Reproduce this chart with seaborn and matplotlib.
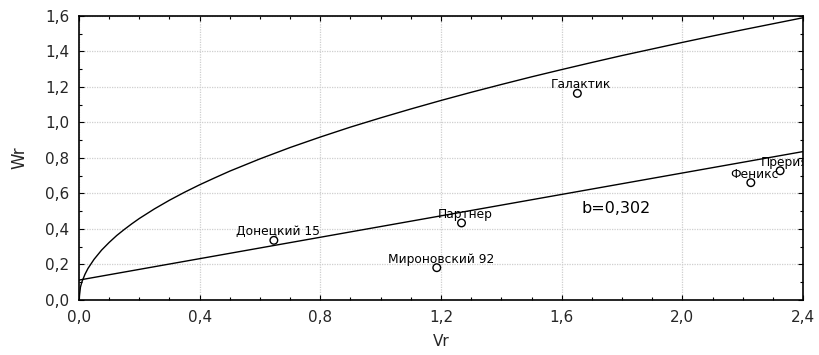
import matplotlib
matplotlib.use("Agg")
import matplotlib.pyplot as plt
import seaborn as sns
import pandas as pd
from matplotlib.ticker import MultipleLocator, FuncFormatter

sns.set_theme(style="white")
plt.rcParams['font.family'] = ['DejaVu Sans']

# Data
names = ["Донецкий 15", "Мироновский 92", "Партнер", "Галактик", "Феникс", "Прерия"]
vr = [0.646, 1.186, 1.268, 1.652, 2.227, 2.324]
wr = [0.336, 0.182, 0.434, 1.164, 0.661, 0.728]

# Limiting parabola, points
para_vr = [0.0, 0.005, 0.01, 0.02, 0.03, 0.05, 0.075, 0.1, 0.125, 0.15, 0.175, 0.2, 0.25,
           0.3, 0.35, 0.4, 0.45, 0.5, 0.6, 0.7, 0.8, 0.9, 1.0, 1.1, 1.2, 1.3, 1.4, 1.5,
           1.6, 1.7, 1.8, 1.9, 2.0, 2.1, 2.2, 2.3, 2.4]
para_wr = [0.0, 0.073, 0.103, 0.145, 0.178, 0.229, 0.281, 0.324, 0.363, 0.397, 0.429, 0.459, 0.513,
           0.562, 0.607, 0.649, 0.688, 0.726, 0.795, 0.859, 0.918, 0.974, 1.026, 1.076, 1.124, 1.170, 1.214, 1.257,
           1.298, 1.338, 1.377, 1.414, 1.451, 1.487, 1.522, 1.556, 1.590]

# Regression line
reg_vr = [0.0, 2.4]
reg_wr = [0.112, 0.836]
slope_label = "b=0,302"

fig = plt.figure(figsize=(8.2, 3.55), dpi=100)
ax = fig.add_axes([0.0963, 0.155, 0.9793 - 0.0963, 0.955 - 0.155])

df_pts = pd.DataFrame({"Vr": vr, "Wr": wr, "name": names})
df_par = pd.DataFrame({"Vr": para_vr, "Wr": para_wr})
df_reg = pd.DataFrame({"Vr": reg_vr, "Wr": reg_wr})

sns.lineplot(data=df_par, x="Vr", y="Wr", ax=ax, color="black", linewidth=1.0,
             sort=False, estimator=None)
sns.lineplot(data=df_reg, x="Vr", y="Wr", ax=ax, color="black", linewidth=1.0,
             sort=False, estimator=None)
sns.scatterplot(data=df_pts, x="Vr", y="Wr", ax=ax, marker="o", s=30,
                facecolor="none", edgecolor="black", linewidth=1.0, zorder=4)

for n, x, y in zip(names, vr, wr):
    ax.annotate(n, (x, y), xytext=(4, 5), textcoords="offset pixels",
                ha="center", va="baseline", fontsize=8.8, color="black",
                annotation_clip=False, clip_on=True, zorder=3)

ax.text(1.667, 0.518, slope_label, fontsize=11.5, ha="left", va="center", color="black")

ax.set_xlim(0, 2.4)
ax.set_ylim(0, 1.6)
ax.xaxis.set_major_locator(MultipleLocator(0.4))
ax.xaxis.set_minor_locator(MultipleLocator(0.1))
ax.yaxis.set_major_locator(MultipleLocator(0.2))
ax.yaxis.set_minor_locator(MultipleLocator(0.1))
fmt = FuncFormatter(lambda v, p: f"{v:.1f}".replace(".", ","))
ax.xaxis.set_major_formatter(fmt)
ax.yaxis.set_major_formatter(fmt)

ax.grid(True, which="major", color="#cfcfcf", linestyle=(0, (1, 1)), linewidth=0.9)
ax.set_axisbelow(True)
ax.tick_params(which="both", direction="in", top=True, right=True, bottom=True, left=True,
               color="black", width=0.8)
ax.tick_params(which="major", length=3.5, labelsize=11, pad=7)
ax.tick_params(which="minor", length=2.5)
for sp in ax.spines.values():
    sp.set_color("black")
    sp.set_linewidth(1.2)

ax.set_xlabel("Vr", fontsize=11, labelpad=7)
ax.set_ylabel("Wr", fontsize=12, labelpad=12)

fig.savefig("out.png", dpi=100, facecolor="white")
